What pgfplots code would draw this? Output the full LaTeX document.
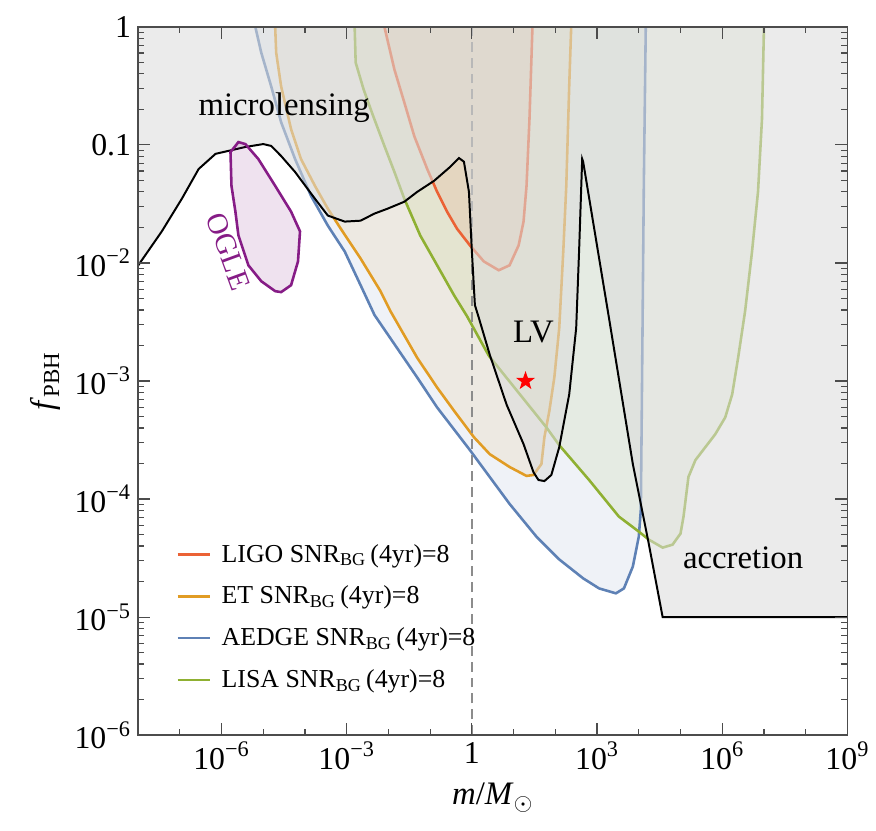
\documentclass[border=0pt]{standalone}
\usepackage{fontspec}
\setmainfont{Liberation Serif}
\usepackage{pgfplots}
\pgfplotsset{compat=1.18}

\definecolor{ligo}{HTML}{EB6235}
\definecolor{et}{HTML}{E19C24}
\definecolor{aedge}{HTML}{5E81B5}
\definecolor{lisa}{HTML}{8FB032}
\definecolor{ogle}{HTML}{861C86}

% filled five-pointed star
\pgfdeclareplotmark{fstar}{%
  \pgfpathmoveto{\pgfpointpolar{90}{\pgfplotmarksize}}%
  \pgfpathlineto{\pgfpointpolar{126}{0.4\pgfplotmarksize}}%
  \pgfpathlineto{\pgfpointpolar{162}{\pgfplotmarksize}}%
  \pgfpathlineto{\pgfpointpolar{198}{0.4\pgfplotmarksize}}%
  \pgfpathlineto{\pgfpointpolar{234}{\pgfplotmarksize}}%
  \pgfpathlineto{\pgfpointpolar{270}{0.4\pgfplotmarksize}}%
  \pgfpathlineto{\pgfpointpolar{306}{\pgfplotmarksize}}%
  \pgfpathlineto{\pgfpointpolar{342}{0.4\pgfplotmarksize}}%
  \pgfpathlineto{\pgfpointpolar{18}{\pgfplotmarksize}}%
  \pgfpathlineto{\pgfpointpolar{54}{0.4\pgfplotmarksize}}%
  \pgfpathclose
  \pgfusepathqfill}

\begin{document}
\begin{tikzpicture}
\begin{axis}[
  xmode=log, ymode=log,
  scale only axis,
  width=357pt, height=356.5pt,
  xmin=1e-8, xmax=1e9, ymin=1e-6, ymax=1,
  xtick={1e-6,1e-3,1,1e3,1e6,1e9},
  xticklabels={10\textsuperscript{−6},10\textsuperscript{−3},1,10\textsuperscript{3},10\textsuperscript{6},10\textsuperscript{9}},
  minor xtick={1e-8,1e-7,1e-5,1e-4,1e-2,1e-1,10,100,1e4,1e5,1e7,1e8},
  ytick={1e-6,1e-5,1e-4,1e-3,1e-2,0.1,1},
  yticklabels={10\textsuperscript{−6},10\textsuperscript{−5},10\textsuperscript{−4},10\textsuperscript{−3},10\textsuperscript{−2},0.1,1},
  minor ytick={2e-6,3e-6,4e-6,5e-6,6e-6,7e-6,8e-6,9e-6,
    2e-5,3e-5,4e-5,5e-5,6e-5,7e-5,8e-5,9e-5,
    2e-4,3e-4,4e-4,5e-4,6e-4,7e-4,8e-4,9e-4,
    2e-3,3e-3,4e-3,5e-3,6e-3,7e-3,8e-3,9e-3,
    0.02,0.03,0.04,0.05,0.06,0.07,0.08,0.09,
    0.2,0.3,0.4,0.5,0.6,0.7,0.8,0.9},
  tick align=inside,
  major tick length=6pt, minor tick length=3pt,
  ticklabel style={font=\fontsize{16}{19}\selectfont},
  xlabel={\textit{m}/\textit{M}$_{\odot}$},
  ylabel={\textit{f}\textsubscript{PBH}},
  label style={font=\fontsize{16.5}{20}\selectfont},
  axis line style={black!70, line width=0.8pt},
  every tick/.style={black!70, line width=0.6pt},
  axis on top,
  legend style={at={(axis description cs:0.045,0.2815)}, anchor=north west,
    draw=none, fill=none, font=\fontsize{13}{15}\selectfont,
    row sep=6.5pt, column sep=3pt},
  legend cell align=left,
  legend image code/.code={\draw[#1] (0pt,0pt) -- (16.5pt,0pt);},
]
% detector regions
\addplot[forget plot, draw=none, fill=aedge, fill opacity=0.1] coordinates {
(6.45e-6,1) (8.96e-6,0.604) (1.55e-5,0.313) (2.68e-5,0.1556) (5.78e-5,7.6e-2)
(1.39e-4,3.71e-2) (3.53e-4,2.07e-2) (8.96e-4,1.25e-2) (2.15e-3,6.48e-3)
(4.64e-3,3.62e-3) (4.9e-2,1.07e-3) (0.147,5.97e-4) (0.896,2.6e-4) (8.0,9.1e-5)
(35.3,4.8e-5) (124,3.08e-5) (464,2.13e-5) (1.12e3,1.75e-5) (2.83e3,1.59e-5)
(4.4e3,1.75e-5) (7.2e3,2.68e-5) (1e4,4.8e-5) (1.12e4,8.1e-5) (1.18e4,5.6e-4)
(1.32e4,4.5e-2) (1.47e4,1)} -- cycle;
\addplot[forget plot, draw=none, fill=et, fill opacity=0.1] coordinates {
(1.93e-5,1) (2.04e-5,0.604) (2.68e-5,0.313) (4.64e-5,0.136) (8.0e-5,7.6e-2)
(1.73e-4,4.5e-2) (3.53e-4,2.88e-2) (7.2e-4,1.95e-2) (2.15e-3,1.09e-2)
(6.45e-3,5.77e-3) (1.12e-2,3.9e-3) (4.9e-2,1.57e-3) (0.147,8.8e-4) (0.373,5.6e-4)
(1.12,3.34e-4) (2.68,2.4e-4) (8.0,1.87e-4) (20.4,1.57e-4) (29.9,1.6e-4)
(46.4,1.98e-4) (54.7,3.34e-4) (72,5.6e-4) (94.6,1.07e-3) (124,2.81e-3)
(155,1.25e-2) (183,4.5e-2) (215,0.313) (240,1)} -- cycle;
\addplot[forget plot, draw=none, fill=lisa, fill opacity=0.1] coordinates {
(1.55e-3,1) (1.64e-3,0.498) (2.54e-3,0.295) (4.16e-3,0.1816) (8.0e-3,9.8e-2)
(1.39e-2,5.9e-2) (2.4e-2,3.5e-2) (5.78e-2,1.71e-2) (0.147,9.55e-3) (0.373,5.33e-3)
(0.76,3.55e-3) (2.54,1.64e-3) (61,4.05e-4) (124,2.86e-4) (645,1.45e-4)
(3.34e3,7.1e-5) (1e4,5.3e-5) (1.73e4,4.54e-5) (3.73e4,3.88e-5) (6.45e4,4.11e-5)
(1e5,5.1e-5) (1.18e5,7.1e-5) (1.55e5,1.54e-4) (2.28e5,2.14e-4) (6.8e5,3.54e-4)
(1.18e6,4.92e-4) (1.73e6,7.7e-4) (2.4e6,1.57e-3) (3.53e6,3.9e-3) (5.18e6,1.25e-2)
(7.2e6,4.0e-2) (8.96e6,0.165) (1e7,1)} -- cycle;
\addplot[forget plot, draw=none, fill=ligo, fill opacity=0.1] coordinates {
(8.0e-3,1) (1.39e-2,0.435) (2.4e-2,0.229) (4.16e-2,0.1186) (8.5e-2,6.25e-2)
(0.147,4.0e-2) (0.254,2.72e-2) (0.44,1.95e-2) (0.896,1.41e-2) (1.93,1.03e-2)
(4.4,8.67e-3) (8.0,9.55e-3) (13.2,1.41e-2) (17.3,2.24e-2) (20.4,4.5e-2)
(24.0,0.165) (28.3,1)} -- cycle;

% detector curves
\addplot[ligo, line width=1.3pt] coordinates {
(8.0e-3,1) (1.39e-2,0.435) (2.4e-2,0.229) (4.16e-2,0.1186) (8.5e-2,6.25e-2)
(0.147,4.0e-2) (0.254,2.72e-2) (0.44,1.95e-2) (0.896,1.41e-2) (1.93,1.03e-2)
(4.4,8.67e-3) (8.0,9.55e-3) (13.2,1.41e-2) (17.3,2.24e-2) (20.4,4.5e-2)
(24.0,0.165) (28.3,1)};
\addlegendentry{LIGO SNR\textsubscript{BG}\,(4yr)=8}
\addplot[et, line width=1.3pt] coordinates {
(1.93e-5,1) (2.04e-5,0.604) (2.68e-5,0.313) (4.64e-5,0.136) (8.0e-5,7.6e-2)
(1.73e-4,4.5e-2) (3.53e-4,2.88e-2) (7.2e-4,1.95e-2) (2.15e-3,1.09e-2)
(6.45e-3,5.77e-3) (1.12e-2,3.9e-3) (4.9e-2,1.57e-3) (0.147,8.8e-4) (0.373,5.6e-4)
(1.12,3.34e-4) (2.68,2.4e-4) (8.0,1.87e-4) (20.4,1.57e-4) (29.9,1.6e-4)
(46.4,1.98e-4) (54.7,3.34e-4) (72,5.6e-4) (94.6,1.07e-3) (124,2.81e-3)
(155,1.25e-2) (183,4.5e-2) (215,0.313) (240,1)};
\addlegendentry{ET SNR\textsubscript{BG}\,(4yr)=8}
\addplot[aedge, line width=1.3pt] coordinates {
(6.45e-6,1) (8.96e-6,0.604) (1.55e-5,0.313) (2.68e-5,0.1556) (5.78e-5,7.6e-2)
(1.39e-4,3.71e-2) (3.53e-4,2.07e-2) (8.96e-4,1.25e-2) (2.15e-3,6.48e-3)
(4.64e-3,3.62e-3) (4.9e-2,1.07e-3) (0.147,5.97e-4) (0.896,2.6e-4) (8.0,9.1e-5)
(35.3,4.8e-5) (124,3.08e-5) (464,2.13e-5) (1.12e3,1.75e-5) (2.83e3,1.59e-5)
(4.4e3,1.75e-5) (7.2e3,2.68e-5) (1e4,4.8e-5) (1.12e4,8.1e-5) (1.18e4,5.6e-4)
(1.32e4,4.5e-2) (1.47e4,1)};
\addlegendentry{AEDGE SNR\textsubscript{BG}\,(4yr)=8}
\addplot[lisa, line width=1.3pt] coordinates {
(1.55e-3,1) (1.64e-3,0.498) (2.54e-3,0.295) (4.16e-3,0.1816) (8.0e-3,9.8e-2)
(1.39e-2,5.9e-2) (2.4e-2,3.5e-2) (5.78e-2,1.71e-2) (0.147,9.55e-3) (0.373,5.33e-3)
(0.76,3.55e-3) (2.54,1.64e-3) (61,4.05e-4) (124,2.86e-4) (645,1.45e-4)
(3.34e3,7.1e-5) (1e4,5.3e-5) (1.73e4,4.54e-5) (3.73e4,3.88e-5) (6.45e4,4.11e-5)
(1e5,5.1e-5) (1.18e5,7.1e-5) (1.55e5,1.54e-4) (2.28e5,2.14e-4) (6.8e5,3.54e-4)
(1.18e6,4.92e-4) (1.73e6,7.7e-4) (2.4e6,1.57e-3) (3.53e6,3.9e-3) (5.18e6,1.25e-2)
(7.2e6,4.0e-2) (8.96e6,0.165) (1e7,1)};
\addlegendentry{LISA SNR\textsubscript{BG}\,(4yr)=8}

% m = 1
\addplot[forget plot, black!45, line width=1pt, dash pattern=on 5pt off 3pt] coordinates {(1,1e-6) (1,1)};

% excluded region (microlensing, LV, accretion)
\addplot[forget plot, draw=none, fill=black!14, fill opacity=0.57] coordinates {
(1e-8,9.5e-3) (3.7e-8,1.85e-2) (1.12e-7,3.5e-2) (2.83e-7,6.25e-2) (7.2e-7,8.4e-2)
(1.47e-6,8.9e-2) (3.73e-6,9.6e-2) (1e-5,0.1016) (1.55e-5,9.8e-2) (2.68e-5,8.05e-2)
(5.78e-5,5.9e-2) (1.73e-4,3.5e-2) (3.53e-4,2.52e-2) (8.96e-4,2.24e-2)
(2.15e-3,2.28e-2) (4.64e-3,2.62e-2) (9.5e-3,2.88e-2) (2.4e-2,3.3e-2) (4.9e-2,4.0e-2)
(0.124,4.96e-2) (0.30,6.5e-2) (0.49,7.74e-2) (0.645,7.2e-2) (0.85,4.0e-2)
(1.0,1.25e-2) (1.18,4.4e-3) (1.47,3.42e-3) (2.68,1.67e-3) (6.8,6.3e-4)
(17.3,2.92e-4) (29.9,1.69e-4) (39.4,1.45e-4) (54.7,1.42e-4) (80.3,1.6e-4)
(124,2.75e-4) (215,7.7e-4) (316,2.81e-3) (373,1.33e-2) (440,7.6e-2) (464,7.2e-2)
(1930,3.42e-3) (7.2e3,1.98e-4) (1.73e4,4.2e-5) (3.73e4,1e-5) (1e9,1e-5)
(1e9,1) (1e-8,1)} -- cycle;
\addplot[forget plot, black, line width=1pt] coordinates {
(1e-8,9.5e-3) (3.7e-8,1.85e-2) (1.12e-7,3.5e-2) (2.83e-7,6.25e-2) (7.2e-7,8.4e-2)
(1.47e-6,8.9e-2) (3.73e-6,9.6e-2) (1e-5,0.1016) (1.55e-5,9.8e-2) (2.68e-5,8.05e-2)
(5.78e-5,5.9e-2) (1.73e-4,3.5e-2) (3.53e-4,2.52e-2) (8.96e-4,2.24e-2)
(2.15e-3,2.28e-2) (4.64e-3,2.62e-2) (9.5e-3,2.88e-2) (2.4e-2,3.3e-2) (4.9e-2,4.0e-2)
(0.124,4.96e-2) (0.30,6.5e-2) (0.49,7.74e-2) (0.645,7.2e-2) (0.85,4.0e-2)
(1.0,1.25e-2) (1.18,4.4e-3) (1.47,3.42e-3) (2.68,1.67e-3) (6.8,6.3e-4)
(17.3,2.92e-4) (29.9,1.69e-4) (39.4,1.45e-4) (54.7,1.42e-4) (80.3,1.6e-4)
(124,2.75e-4) (215,7.7e-4) (316,2.81e-3) (373,1.33e-2) (440,7.6e-2) (464,7.2e-2)
(1930,3.42e-3) (7.2e3,1.98e-4) (1.73e4,4.2e-5) (3.73e4,1e-5) (1e9,1e-5)};

% OGLE
\addplot[forget plot, ogle, line width=1.3pt, fill=ogle, fill opacity=0.13] coordinates {
(2.54e-6,0.1056) (1.64e-6,8.7e-2) (1.73e-6,4.5e-2) (2.15e-6,2.72e-2) (2.54e-6,1.71e-2)
(4.4e-6,9.55e-3) (8.96e-6,7.0e-3) (1.93e-5,5.77e-3) (2.68e-5,5.66e-3) (4.64e-5,6.48e-3)
(6.8e-5,1.03e-2) (7.6e-5,1.85e-2) (4.64e-5,2.72e-2) (1.93e-5,4.5e-2) (7.6e-6,7.6e-2)
(3.73e-6,0.1016)} -- cycle;

% red star
\addplot[forget plot, only marks, mark=fstar, mark size=5pt, color=red] coordinates {(19.3,1.0e-3)};

\node[font=\fontsize{16.5}{20}\selectfont] at (axis cs:3.16e-5,0.208) {microlensing};
\node[font=\fontsize{16.5}{20}\selectfont] at (axis cs:30,2.6e-3) {LV};
\node[font=\fontsize{16.5}{20}\selectfont] at (axis cs:3.16e6,3.2e-5) {accretion};
\node[font=\fontsize{15}{18}\selectfont, text=ogle, rotate=-70] at (axis cs:1.47e-6,1.25e-2) {OGLE};
\end{axis}
\path ([xshift=-69.5pt,yshift=-48pt]current axis.south west) rectangle ([xshift=11.5pt,yshift=13.5pt]current axis.north east);
\end{tikzpicture}
\end{document}
